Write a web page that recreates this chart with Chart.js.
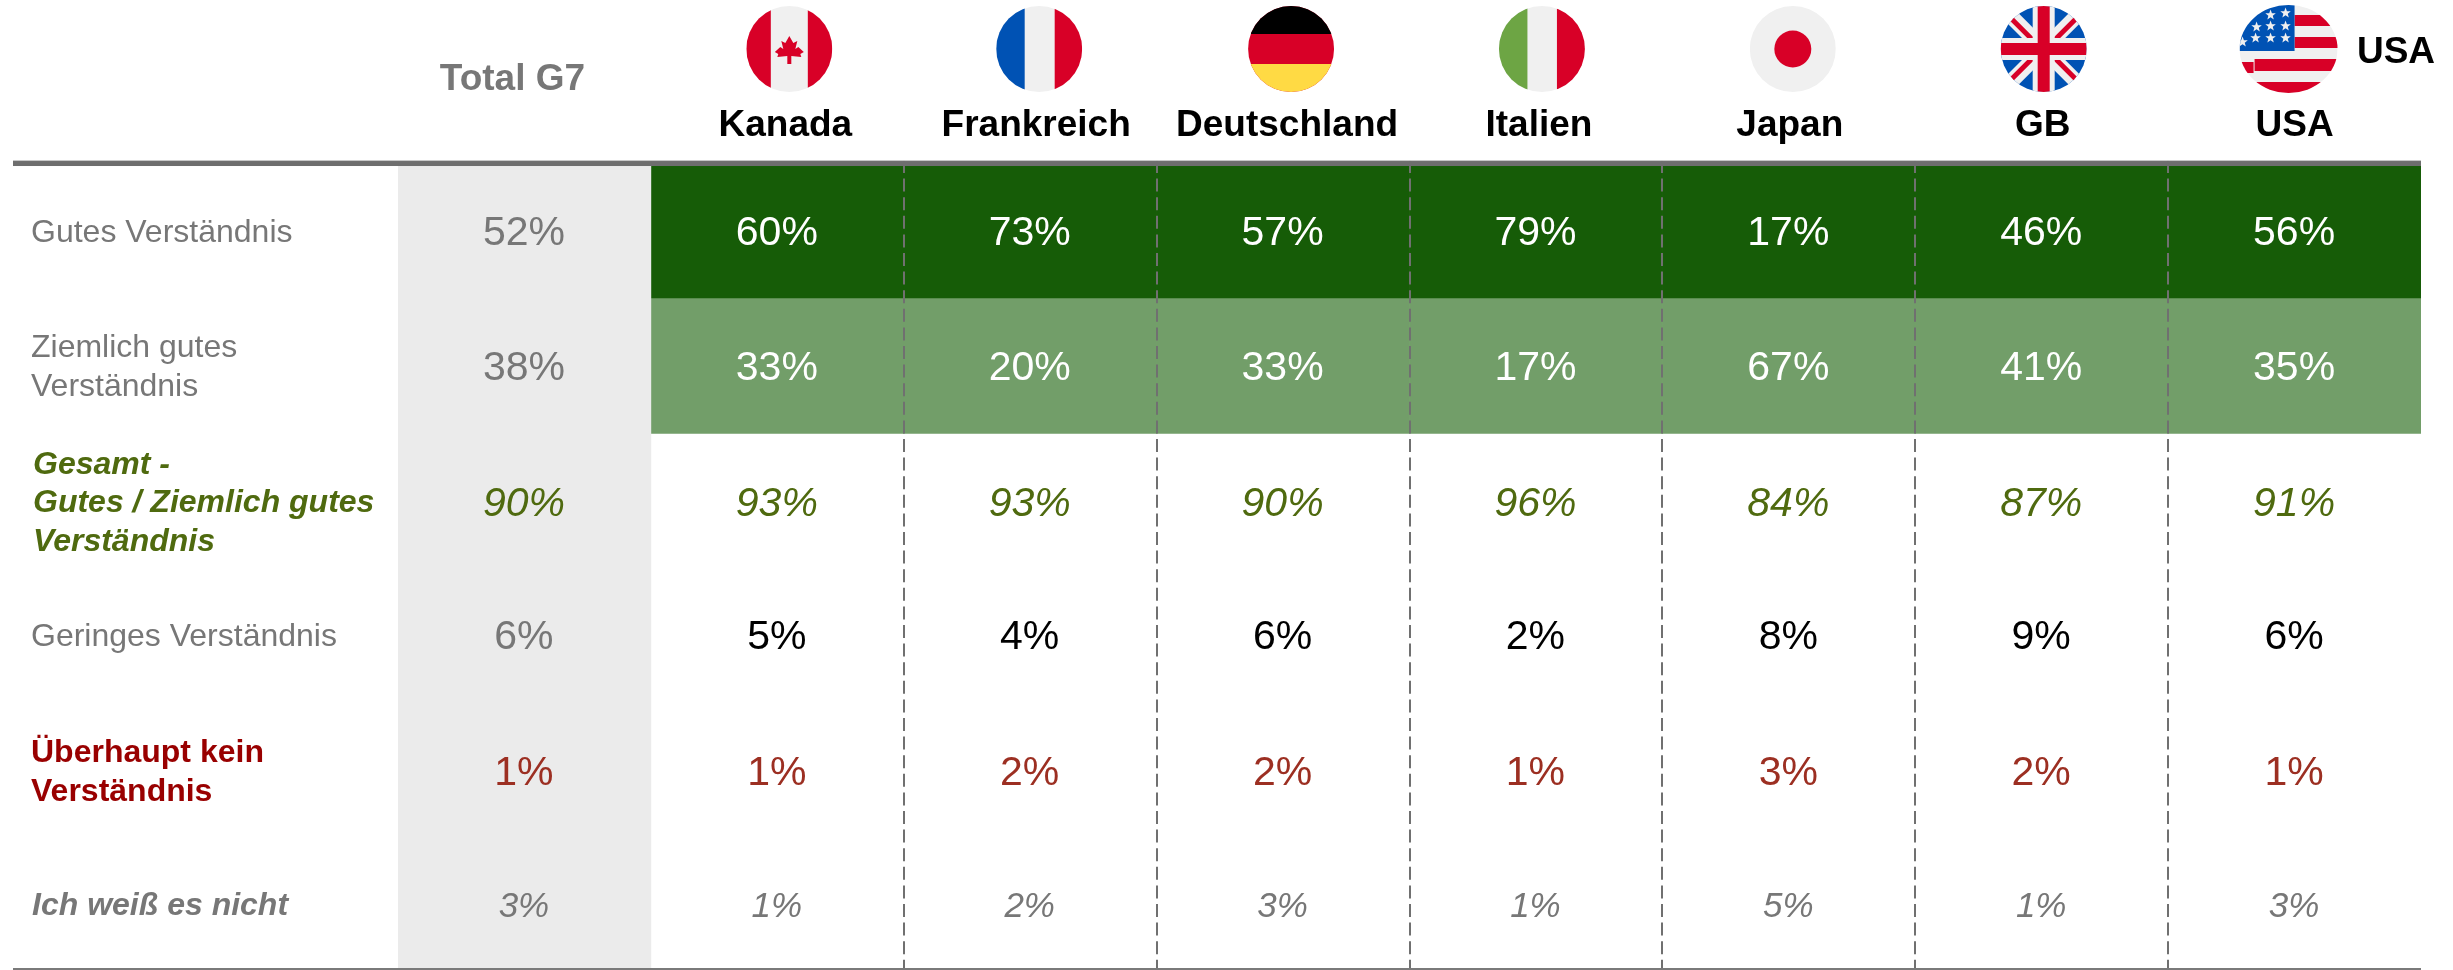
<!DOCTYPE html>
<html lang="de">
<head>
<meta charset="utf-8">
<title>Verständnis G7</title>
<script src="https://cdn.jsdelivr.net/npm/chart.js@4"></script>
<style>
  html, body { margin: 0; padding: 0; background: #fff; }
  canvas { display: block; }
</style>
</head>
<body>
<canvas id="chartContainer" width="2453" height="970"></canvas>
<script>
// columns and rows of the table
var columns = ['Total G7', 'Kanada', 'Frankreich', 'Deutschland', 'Italien', 'Japan', 'GB', 'USA'];
var rowLabels = [
    ['Gutes Verständnis'],
    ['Ziemlich gutes', 'Verständnis'],
    ['Gesamt -', 'Gutes / Ziemlich gutes', 'Verständnis'],
    ['Geringes Verständnis'],
    ['Überhaupt kein', 'Verständnis'],
    ['Ich weiß es nicht']
];

// percentages, first entry is Total G7
var gutes = [52, 60, 73, 57, 79, 17, 46, 56];
var ziemlichGutes = [38, 33, 20, 33, 17, 67, 41, 35];
var gesamt = [90, 93, 93, 90, 96, 84, 87, 91];
var geringes = [6, 5, 4, 6, 2, 8, 9, 6];
var ueberhauptKein = [1, 1, 2, 2, 1, 3, 2, 1];
var weissNicht = [3, 1, 2, 3, 1, 5, 1, 3];
var rows = [gutes, ziemlichGutes, gesamt, geringes, ueberhauptKein, weissNicht];

var FONT = '"Liberation Sans", Arial, sans-serif';
var GREY = '#777777';
var RED = '#d80027', WHITE = '#f0f0f0', BLUE = '#0052b4';

var rowFill = ['#165c07', '#729e69', null, null, null, null];
var rowTop = [6, 5.013, 4, 3, 2, 1];
var rowBottom = [5.013, 4, 3, 2, 1, 0];
var rowShift = [0, 1, 3, 3, 5, 5];

var labelFont = ['32px', '32px', 'italic bold 32px', '32px', 'bold 32px', 'italic bold 32px'];
var labelColor = [GREY, GREY, '#4f6a0f', GREY, '#990000', GREY];
var labelLeft = [31, 31, 33, 31, 31, 32];
var valueFont = ['41px', '41px', 'italic 41px', '41px', '41px', 'italic 35px'];
var valueColor = ['#ffffff', '#ffffff', '#4f6a0f', '#000000', '#9c2f22', GREY];

// header text does not sit exactly on the column centre
var headerShift = [-12, 8, 6, 4, 3, 1, 1, 0];
var flagShift = [0, 12, 9, 8, 6, 4, 2, -6];

var datasets = [{
    label: 'Total G7',
    data: columns.map(function (c, i) { return i === 0 ? [0, 6] : null; }),
    backgroundColor: '#ebebeb'
}];
rows.forEach(function (values, r) {
    datasets.push({
        label: rowLabels[r].join(' '),
        data: values.map(function () { return [rowBottom[r], rowTop[r]]; }),
        backgroundColor: values.map(function (v, i) {
            return i > 0 && rowFill[r] ? rowFill[r] : 'rgba(0,0,0,0)';
        })
    });
});

function star(ctx, x, y, r) {
    ctx.beginPath();
    for (var i = 0; i < 10; i++) {
        var a = -Math.PI / 2 + i * Math.PI / 5;
        var d = i % 2 ? r * 0.42 : r;
        ctx.lineTo(x + Math.cos(a) * d, y + Math.sin(a) * d);
    }
    ctx.closePath();
    ctx.fill();
}

function rect(ctx, color, x, y, w, h) {
    ctx.fillStyle = color;
    ctx.fillRect(x, y, w, h);
}

function stripe(ctx, color, width, x1, y1, x2, y2) {
    ctx.strokeStyle = color;
    ctx.lineWidth = width;
    ctx.beginPath();
    ctx.moveTo(x1, y1);
    ctx.lineTo(x2, y2);
    ctx.stroke();
}

function mapleLeaf(ctx, x, y) {
    var p = [[0, -14], [4, -7], [8, -9], [6, -1], [9, -3], [14.5, 2], [11, 4], [12, 7], [2, 6],
        [2, 14], [-2, 14], [-2, 6], [-12, 7], [-11, 4], [-14.5, 2], [-9, -3], [-6, -1], [-8, -9], [-4, -7]];
    ctx.fillStyle = RED;
    ctx.beginPath();
    p.forEach(function (q) { ctx.lineTo(x + q[0], y + q[1]); });
    ctx.closePath();
    ctx.fill();
}

// flag painters, every one is clipped to a circle around x,y
var flags = {
    Kanada: function (ctx, x, y, r) {
        rect(ctx, WHITE, x - r, y - r, 2 * r, 2 * r);
        rect(ctx, RED, x - r, y - r, r - 18.5, 2 * r);
        rect(ctx, RED, x + 18.5, y - r, r - 18.5, 2 * r);
        mapleLeaf(ctx, x, y + 1);
    },
    Frankreich: function (ctx, x, y, r) {
        rect(ctx, WHITE, x - r, y - r, 2 * r, 2 * r);
        rect(ctx, BLUE, x - r, y - r, r - 14.5, 2 * r);
        rect(ctx, RED, x + 15.5, y - r, r - 15.5, 2 * r);
    },
    Deutschland: function (ctx, x, y, r) {
        rect(ctx, RED, x - r, y - r, 2 * r, 2 * r);
        rect(ctx, '#000000', x - r, y - r, 2 * r, r - 15);
        rect(ctx, '#ffda44', x - r, y + 15, 2 * r, r - 15);
    },
    Italien: function (ctx, x, y, r) {
        rect(ctx, WHITE, x - r, y - r, 2 * r, 2 * r);
        rect(ctx, '#6da544', x - r, y - r, r - 14.5, 2 * r);
        rect(ctx, RED, x + 15, y - r, r - 15, 2 * r);
    },
    Japan: function (ctx, x, y, r) {
        rect(ctx, WHITE, x - r, y - r, 2 * r, 2 * r);
        ctx.fillStyle = RED;
        ctx.beginPath();
        ctx.arc(x, y, 18.5, 0, Math.PI * 2);
        ctx.fill();
    },
    GB: function (ctx, x, y, r) {
        rect(ctx, BLUE, x - r, y - r, 2 * r, 2 * r);
        stripe(ctx, WHITE, 15, x - r, y - r, x + r, y + r);
        stripe(ctx, WHITE, 15, x - r, y + r, x + r, y - r);
        stripe(ctx, RED, 5, x - 33, y - 31, x - 11, y - 9);
        stripe(ctx, RED, 5, x + 11, y + 9, x + 33, y + 31);
        stripe(ctx, RED, 5, x - 33, y + 31, x - 11, y + 9);
        stripe(ctx, RED, 5, x + 11, y - 9, x + 33, y - 31);
        rect(ctx, WHITE, x - 11, y - r, 22, 2 * r);
        rect(ctx, WHITE, x - r, y - 11, 2 * r, 22);
        rect(ctx, RED, x - 6, y - r, 12, 2 * r);
        rect(ctx, RED, x - r, y - 6, 2 * r, 12);
    },
    USA: function (ctx, x, y, r) {
        rect(ctx, WHITE, x - r, y - r, 2 * r, 2 * r);
        rect(ctx, RED, x + 6, y - 34, r, 11);
        rect(ctx, RED, x + 6, y - 12, r, 11);
        rect(ctx, RED, x - 34, y + 10, 2 * r, 12);
        rect(ctx, RED, x - r, y + 13, 14, 11);
        rect(ctx, RED, x - r, y + 33, 2 * r, 12);
        rect(ctx, BLUE, x - r, y - r, r + 6, r + 2);
        ctx.fillStyle = WHITE;
        [[-3, -36], [-18, -23], [-3, -23], [-18, -11], [-3, -11], [-33, -11], [-32, -22], [-18, -34], [-46, -7]].forEach(function (s) {
            star(ctx, x + s[0], y + s[1], 5.5);
        });
    }
};

function drawFlag(ctx, name, x, y, rx, ry) {
    ctx.save();
    ctx.beginPath();
    ctx.ellipse(x, y, rx, ry, 0, 0, Math.PI * 2);
    ctx.clip();
    flags[name](ctx, x, y, rx);
    ctx.restore();
}

var tableText = {
    id: 'tableText',
    afterDraw: function (chart) {
        var ctx = chart.ctx;
        var xs = chart.scales.x, ys = chart.scales.y;
        var area = chart.chartArea;

        ctx.save();
        // rules
        rect(ctx, '#6e6e6e', 13, ys.getPixelForValue(6) - 5, area.right - 13, 5);
        rect(ctx, '#c8c8c8', 13, ys.getPixelForValue(6) - 6, area.right - 13, 1);
        rect(ctx, '#7a7a7a', 13, ys.getPixelForValue(0), area.right - 13, 2);

        // header
        ctx.textAlign = 'center';
        ctx.textBaseline = 'alphabetic';
        columns.forEach(function (name, i) {
            var cx = xs.getPixelForValue(i);
            ctx.font = 'bold 37px ' + FONT;
            ctx.fillStyle = i === 0 ? GREY : '#000000';
            ctx.fillText(name, cx + headerShift[i], i === 0 ? 90 : 136);
            if (i > 0) {
                if (name === 'USA') drawFlag(ctx, name, cx + flagShift[i], 49, 49, 44);
                else drawFlag(ctx, name, cx + flagShift[i], 49, 43, 43);
            }
        });
        ctx.fillStyle = '#000000';
        ctx.fillText('USA', 2396, 63);

        // row labels and values
        rows.forEach(function (values, r) {
            var cy = ys.getPixelForValue(5.5 - r) + rowShift[r];
            var lines = rowLabels[r];
            ctx.textAlign = 'left';
            ctx.textBaseline = 'middle';
            ctx.font = labelFont[r] + ' ' + FONT;
            ctx.fillStyle = labelColor[r];
            lines.forEach(function (line, k) {
                ctx.fillText(line, labelLeft[r], cy + (k - (lines.length - 1) / 2) * 38.5);
            });
            ctx.textAlign = 'center';
            ctx.font = valueFont[r] + ' ' + FONT;
            values.forEach(function (v, i) {
                // Total G7 and the lighter rows use the grey text
                ctx.fillStyle = i === 0 && r !== 2 && r !== 4 ? GREY : valueColor[r];
                ctx.fillText(v + '%', xs.getPixelForValue(i) - 0.5, cy + 1);
            });
        });
        ctx.restore();
    }
};

new Chart(document.getElementById('chartContainer').getContext('2d'), {
    type: 'bar',
    data: { labels: columns, datasets: datasets },
    plugins: [tableText],
    options: {
        responsive: false,
        animation: false,
        layout: { padding: { left: 398, right: 32, top: 160, bottom: 2 } },
        datasets: { bar: { barPercentage: 1, categoryPercentage: 1, grouped: false, borderWidth: 0 } },
        plugins: { legend: { display: false }, tooltip: { enabled: false } },
        scales: {
            x: {
                offset: true,
                ticks: { display: false },
                border: { display: false, dash: [13, 5.6] },
                grid: {
                    offset: true,
                    z: 1,
                    drawTicks: false,
                    lineWidth: 2,
                    color: function (c) {
                        // only the separators between the countries
                        return c.index >= 2 && c.index <= 7 ? '#707070' : 'rgba(0,0,0,0)';
                    }
                }
            },
            y: {
                display: false,
                min: 0,
                max: 6.045
            }
        }
    }
});
</script>
</body>
</html>
